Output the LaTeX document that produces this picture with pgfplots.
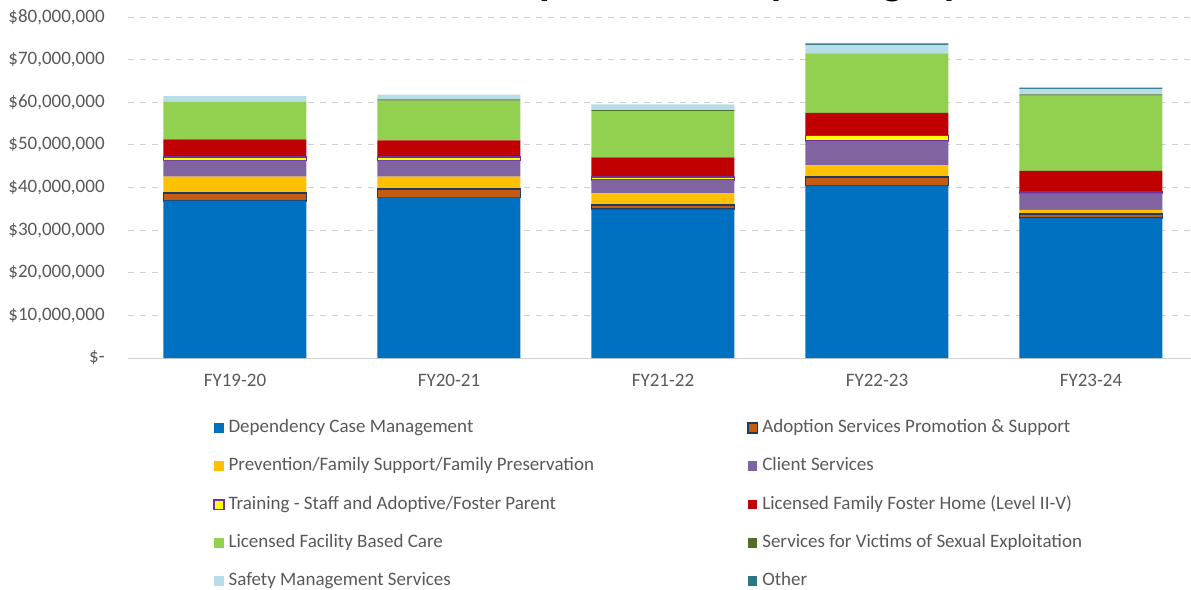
\documentclass[border=0pt]{standalone}
\usepackage{pgfplots}
\pgfplotsset{compat=1.18}
\usepackage{fontspec}
\setmainfont{Carlito}

\definecolor{cDep}{HTML}{0070C0}
\definecolor{cAdo}{HTML}{C55A11}
\definecolor{cAdoB}{HTML}{1F3864}
\definecolor{cPre}{HTML}{FFC000}
\definecolor{cCli}{HTML}{8064A2}
\definecolor{cTra}{HTML}{FFFF00}
\definecolor{cTraB}{HTML}{7030A0}
\definecolor{cFam}{HTML}{C00000}
\definecolor{cFac}{HTML}{92D050}
\definecolor{cVic}{HTML}{4F6E28}
\definecolor{cSaf}{HTML}{B7DEE8}
\definecolor{cOth}{HTML}{2E7588}
\definecolor{txt}{HTML}{595959}
\definecolor{gridc}{HTML}{D0D0D0}

\begin{document}
\begin{tikzpicture}
\begin{axis}[
  at={(64pt,-179pt)}, anchor=south west,
  scale only axis, width=535pt, height=170.5pt,
  ybar stacked, bar width=71.5pt,
  xmin=-0.5, xmax=4.5, ymin=0, ymax=80,
  xtick={0,1,2,3,4},
  xticklabels={FY19-20,FY20-21,FY21-22,FY22-23,FY23-24},
  ytick={0,10,20,30,40,50,60,70,80},
  yticklabels={{\$-},{\$10,000,000},{\$20,000,000},{\$30,000,000},{\$40,000,000},
    {\$50,000,000},{\$60,000,000},{\$70,000,000},{\$80,000,000}},
  tick align=inside, major tick length=0pt,
  ticklabel style={font=\fontsize{9.5}{11}\selectfont, text=txt},
  yticklabel style={anchor=east, inner sep=0pt, xshift=-11.5pt},
  xticklabel style={anchor=north, inner sep=0pt, yshift=-8pt},
  axis x line*=bottom, axis y line*=left,
  x axis line style={draw=gridc, -},
  y axis line style={draw=none},
  ymajorgrids, grid style={draw=gridc, dashed},
  legend columns=2,
  legend image code/.code={\path[#1] (0pt,-2.4pt) rectangle (4.8pt,2.4pt);},
  legend style={
    at={(0.0794,-0.1774)}, anchor=north west,
    draw=none, inner sep=0pt,
    font=\fontsize{9.5}{11}\selectfont, text=txt,
    nodes={inner sep=0pt, text height=6.8pt, text depth=2.2pt},
    row sep=10.15pt,
    /tikz/column 1/.style={column sep=2pt},
    /tikz/column 2/.style={column sep=76.5pt},
    /tikz/column 3/.style={column sep=2pt},
  },
  legend cell align=left,
]
\addplot[fill=cDep, draw=none] coordinates {(0,36.9) (1,37.7) (2,34.9) (3,40.45) (4,32.8)};
\addlegendentry{Dependency Case Management}
\addplot[fill=cAdo, draw=cAdoB, line width=0.8pt] coordinates {(0,1.75) (1,1.9) (2,1.0) (3,1.95) (4,0.95)};
\addlegendentry{Adoption Services Promotion \& Support}
\addplot[fill=cPre, draw=none] coordinates {(0,3.9) (1,2.95) (2,2.75) (3,2.8) (4,1.0)};
\addlegendentry{Prevention/Family Support/Family Preservation}
\addplot[fill=cCli, draw=none] coordinates {(0,3.75) (1,3.75) (2,3.1) (3,5.7) (4,3.85)};
\addlegendentry{Client Services}
\addplot[fill=cTra, draw=cTraB, line width=0.8pt] coordinates {(0,0.9) (1,0.9) (2,0.75) (3,1.3) (4,0.4)};
\addlegendentry{Training - Staff and Adoptive/Foster Parent}
\addplot[fill=cFam, draw=none] coordinates {(0,4.1) (1,3.85) (2,4.55) (3,5.3) (4,4.9)};
\addlegendentry{Licensed Family Foster Home (Level II-V)}
\addplot[fill=cFac, draw=none] coordinates {(0,8.8) (1,9.35) (2,10.85) (3,13.95) (4,17.65)};
\addlegendentry{Licensed Facility Based Care}
\addplot[fill=cVic, draw=none] coordinates {(0,0) (1,0.25) (2,0.25) (3,0) (4,0.3)};
\addlegendentry{Services for Victims of Sexual Exploitation}
\addplot[fill=cSaf, draw=none] coordinates {(0,1.35) (1,1.15) (2,1.35) (3,2.0) (4,1.3)};
\addlegendentry{Safety Management Services}
\addplot[fill=cOth, draw=none] coordinates {(0,0) (1,0) (2,0) (3,0.35) (4,0.3)};
\addlegendentry{Other}
\end{axis}
\node[anchor=base west, inner sep=0pt, font=\bfseries\fontsize{22}{26}\selectfont]
  at (248.5pt,3pt) {Expenditures by Category};
\pgfresetboundingbox
\useasboundingbox (0pt,0pt) rectangle (595.5pt,-295pt);
\end{tikzpicture}
\end{document}
